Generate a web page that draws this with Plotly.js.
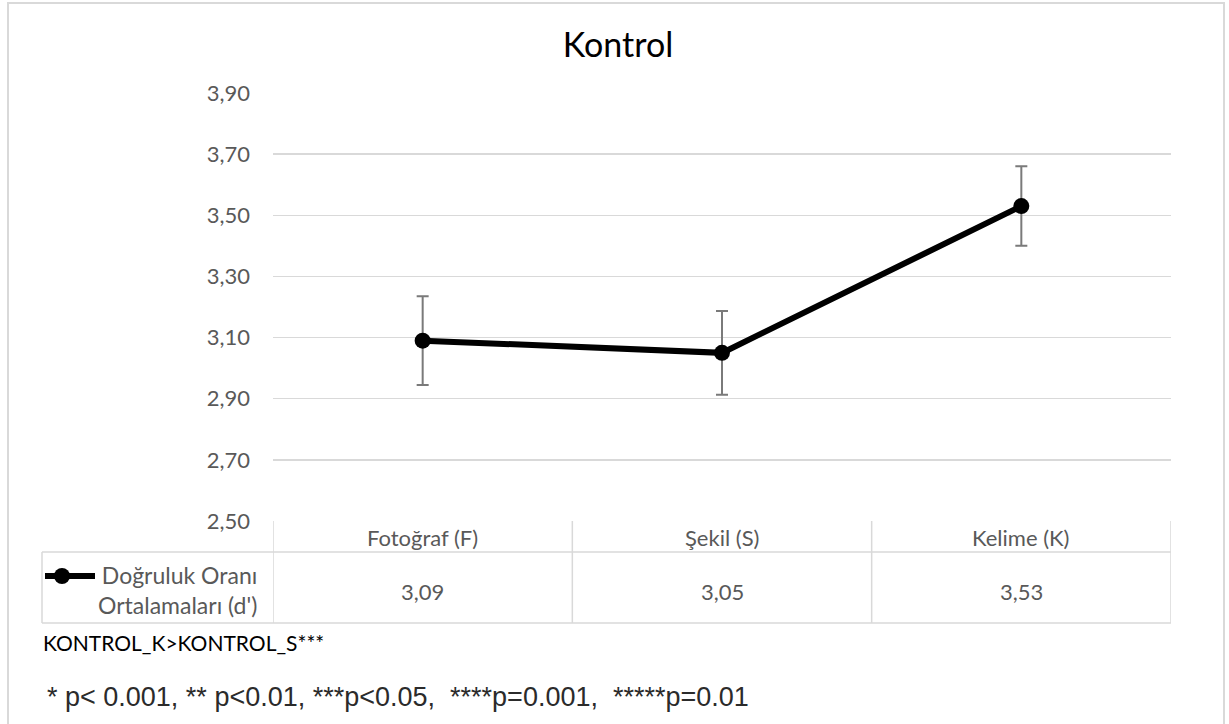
<!DOCTYPE html>
<html>
<head>
<meta charset="utf-8">
<script src="https://cdn.plot.ly/plotly-3.0.1.min.js"></script>
<style>
  html, body { margin: 0; padding: 0; background: #ffffff; }
  #chart { width: 1229px; height: 724px; }
</style>
</head>
<body>
<div id="chart"></div>
<script>
// Mean accuracy (d') per stimulus type, control group
const categories = ['Fotoğraf (F)', 'Şekil (S)', 'Kelime (K)'];
const meanValues = [3.09, 3.05, 3.53];
const errorValues = [0.145, 0.137, 0.13];
const seriesName = "Doğruluk Oranı<br>Ortalamaları (d')";
const yTicks = [2.5, 2.7, 2.9, 3.1, 3.3, 3.5, 3.7, 3.9];
const comparisonNote = 'KONTROL_K>KONTROL_S***';
const significanceNote = '* p< 0.001, ** p<0.01, ***p<0.05,  ****p=0.001,  *****p=0.01';

const W = 1229, H = 724;
const M = { l: 273, r: 58, t: 93, b: 203 };
const plotW = W - M.l - M.r;
const plotH = H - M.t - M.b;

// helpers converting page pixels to paper coordinates
const px = x => (x - M.l) / plotW;
const py = y => (H - M.b - y) / plotH;

const gridColor = '#d9d9d9';
const textGray = '#595959';
const baseFont = 'Lato, "Open Sans", sans-serif';

const fmt = v => v.toFixed(2).replace('.', ',');

const trace = {
  type: 'scatter',
  mode: 'lines+markers',
  x: categories,
  y: meanValues,
  name: seriesName,
  line: { color: '#000000', width: 6 },
  marker: { color: '#000000', size: 16 },
  error_y: {
    type: 'data',
    array: errorValues,
    visible: true,
    color: '#7a7a7a',
    thickness: 2,
    width: 6
  },
  showlegend: false,
  hoverinfo: 'x+y'
};

const shapes = [];
const annotations = [];

// outer chart border
shapes.push({
  type: 'rect', xref: 'paper', yref: 'paper',
  x0: px(8), x1: px(1224), y0: py(740), y1: py(3),
  line: { color: gridColor, width: 2 }, fillcolor: 'rgba(0,0,0,0)', layer: 'below'
});

// data table beneath the axis
const headerBottom = py(552);
const tableBottom = py(623);
const tableLeft = px(42);
const colEdges = [-0.5, 0.5, 1.5, 2.5];
colEdges.forEach(xe => {
  shapes.push({
    type: 'line', xref: 'x', yref: 'paper',
    x0: xe, x1: xe, y0: 0, y1: tableBottom,
    line: { color: gridColor, width: 1.5 }
  });
});
[headerBottom, tableBottom].forEach(yy => {
  shapes.push({
    type: 'line', xref: 'paper', yref: 'paper',
    x0: tableLeft, x1: 1, y0: yy, y1: yy,
    line: { color: gridColor, width: 1.5 }
  });
});
shapes.push({
  type: 'line', xref: 'paper', yref: 'paper',
  x0: tableLeft, x1: tableLeft, y0: headerBottom, y1: tableBottom,
  line: { color: gridColor, width: 1.5 }
});

// header cells and value cells
categories.forEach((c, i) => {
  annotations.push({
    xref: 'x', yref: 'paper', x: c, y: py(537),
    text: c, showarrow: false, xanchor: 'center', yanchor: 'middle',
    font: { family: baseFont, size: 22, color: textGray }
  });
  annotations.push({
    xref: 'x', yref: 'paper', x: c, y: py(591),
    text: fmt(meanValues[i]), showarrow: false, xanchor: 'center', yanchor: 'middle',
    font: { family: baseFont, size: 22, color: textGray }
  });
});

// series key inside the table
shapes.push({
  type: 'line', xref: 'paper', yref: 'paper',
  x0: px(45), x1: px(95), y0: py(576), y1: py(576),
  line: { color: '#000000', width: 6 }
});
shapes.push({
  type: 'circle', xref: 'paper', yref: 'paper',
  xsizemode: 'pixel', ysizemode: 'pixel',
  xanchor: px(62), yanchor: py(576),
  x0: -8, x1: 8, y0: -8, y1: 8,
  fillcolor: '#000000', line: { color: '#000000', width: 0 }
});
annotations.push({
  xref: 'paper', yref: 'paper', x: px(258), y: py(590),
  text: seriesName, showarrow: false, xanchor: 'right', yanchor: 'middle', align: 'right',
  borderpad: 0,
  font: { family: baseFont, size: 23, color: textGray }
});

// notes under the chart
annotations.push({
  xref: 'paper', yref: 'paper', x: px(42), y: py(642),
  text: comparisonNote, showarrow: false, xanchor: 'left', yanchor: 'middle',
  borderpad: 0,
  font: { family: baseFont, size: 21, color: '#000000' }
});
annotations.push({
  xref: 'paper', yref: 'paper', x: px(46), y: py(697),
  text: significanceNote, showarrow: false, xanchor: 'left', yanchor: 'middle',
  borderpad: 0,
  font: { family: '"Liberation Sans", Arial, sans-serif', size: 27, color: '#2b2b2b' }
});

const layout = {
  width: W, height: H,
  margin: M,
  paper_bgcolor: '#ffffff',
  plot_bgcolor: '#ffffff',
  separators: ',.',
  title: {
    text: 'Kontrol',
    x: 618 / W, xref: 'container', xanchor: 'center',
    y: 1 - 45 / H, yref: 'container', yanchor: 'middle',
    font: { family: baseFont, size: 34, color: '#000000' }
  },
  xaxis: {
    type: 'category',
    range: [-0.5, 2.5],
    showticklabels: false,
    showgrid: false,
    zeroline: false,
    showline: false,
    ticks: ''
  },
  yaxis: {
    range: [2.5, 3.9],
    tickvals: yTicks,
    ticktext: yTicks.map(fmt),
    showgrid: true,
    gridcolor: gridColor,
    gridwidth: 1.5,
    zeroline: false,
    showline: false,
    ticks: '',
    ticklabelstandoff: 22,
    tickfont: { family: baseFont, size: 22, color: textGray }
  },
  shapes: shapes,
  annotations: annotations,
  showlegend: false
};

Plotly.newPlot('chart', [trace], layout, { displayModeBar: false, staticPlot: true });
</script>
</body>
</html>
